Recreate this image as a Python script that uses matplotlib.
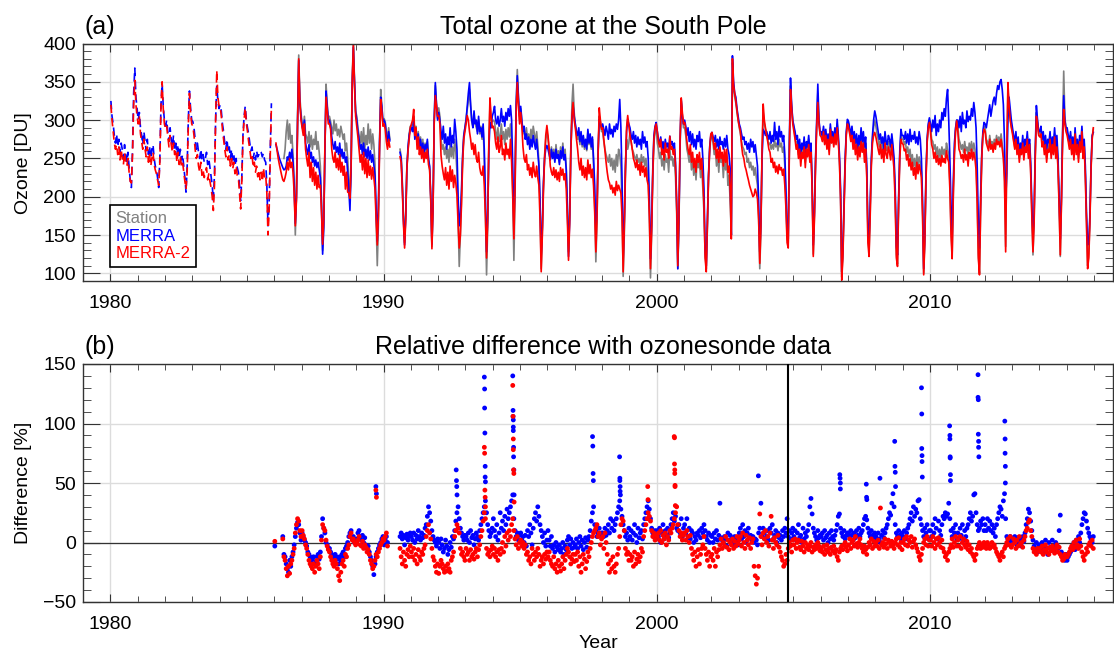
import matplotlib
matplotlib.use('Agg')
import matplotlib.pyplot as plt
import numpy as np
from matplotlib.ticker import MultipleLocator

plt.rcParams['font.family'] = ['Liberation Sans', 'DejaVu Sans']

# panel (a): total ozone [DU], 24 half-month values per year
merra_a = """
1980 325 305 295 280 270 282  265 275 258 270 262 250  268 255 245 258 238 222  212 262 335 368 330 315
1981 300 310 290 280 268 285  272 260 275 255 265 250  262 268 250 240 235 225  212 250 320 348 318 300
1982 292 300 285 272 290 275  265 280 262 270 255 268  250 262 248 255 240 225  206 240 300 338 315 300
1983 298 290 275 262 270 258  250 262 248 255 245 250  258 242 250 238 225 215  195 230 300 345 325 315
1984 320 312 295 285 270 262  275 258 265 250 262 248  255 240 250 238 232 215  195 225 280 305 318 300
1985 290 282 270 260 265 250  258 248 260 252 255 260  258 252 257 248 245 215  162 192 262 322 nan nan
1986 nan 268 262 256 250 246  242 238 235 236 240 252  248 258 250 262 245 215  165 200 300 378 320 305
1987 292 285 300 270 262 255  268 250 258 245 252 240  248 238 245 235 225 190  125 160 260 338 318 300
1988 300 292 278 268 262 272  258 265 255 270 252 262  250 258 245 252 232 210  182 235 345 395 350 310
1989 300 285 275 262 268 255  270 252 262 250 265 248  260 245 255 242 228 185  142 190 270 330 318 298
1990 300 295 280 272 285 273  nan nan nan nan nan nan  nan nan 258 250 215 170  137 175 236 265 280 288
1991 290 285 300 275 288 270  282 262 275 258 270 255  268 262 275 250 240 200  138 190 300 349 320 300
1992 310 300 285 275 292 270  282 262 278 268 290 265  280 270 301 285 262 200  162 175 210 255 280 290
1993 300 318 335 349 320 300  290 312 295 300 282 305  285 290 278 295 262 200  128 175 260 297 290 305
1994 310 318 300 295 305 292  300 315 298 305 292 310  300 315 305 319 300 240  163 225 320 358 330 305
1995 318 300 285 292 275 282  268 278 262 275 265 280  270 262 275 258 240 195  124 160 220 250 262 267
1996 262 255 248 262 250 258  245 262 250 255 242 260  250 265 248 255 235 190  122 170 260 300 319 305
1997 295 285 280 290 272 285  268 280 265 275 262 288  270 282 265 278 250 215  154 185 260 301 295 290
1998 295 288 280 292 285 275  295 282 288 278 292 285  295 288 300 327 290 225  119 170 240 285 301 295
1999 290 280 275 285 270 280  265 278 268 275 262 285  270 278 265 272 250 200  119 165 235 280 292 297
2000 285 275 268 278 262 272  258 275 265 270 260 279  268 272 262 270 245 195  106 170 270 327 305 295
2001 300 292 280 290 272 285  268 282 265 275 262 280  272 285 265 275 250 210  130 110 170 230 265 280
2002 284 278 272 280 265 275  262 278 268 272 262 276  265 280 262 255 235 150  384 350 335 330 315 305
2003 295 290 282 275 278 268  272 262 270 258 275 265  272 258 268 254 240 195  128 170 250 288 285 280
2004 285 280 275 285 270 280  272 297 275 285 268 292  278 285 272 280 255 210  150 145 270 355 320 300
2005 292 285 275 280 262 275  255 270 262 278 250 272  265 280 258 270 220 137  180 250 300 347 300 285
2006 285 280 292 275 288 270  282 265 295 278 285 272  290 275 301 280 255 210  102 130 190 250 285 301
2007 298 290 280 292 275 285  270 282 262 280 268 290  272 285 265 278 240 160  145 190 250 280 300 312
2008 305 295 285 275 282 270  278 262 285 272 268 280  275 265 282 268 250 210  135 124 200 260 288 280
2009 280 275 285 270 282 268  288 272 280 275 285 270  278 268 285 275 250 195  106 150 230 275 295 303
2010 295 285 300 290 306 280  295 285 300 290 310 300  315 305 328 340 300 250  190 145 220 270 290 300
2011 300 290 305 285 310 295  300 290 312 298 305 300  315 305 323 310 290 240  167 133 200 255 285 297
2012 295 290 300 310 320 305  315 325 330 320 335 345  340 350 353 340 320 270  195 230 300 330 315 300
2013 290 280 272 285 265 278  255 270 262 280 258 275  268 285 262 275 245 190  145 180 260 319 300 285
2014 285 292 275 285 268 280  262 275 270 285 262 278  268 290 265 280 250 200  145 200 280 332 300 290
2015 290 280 272 285 265 278  258 290 262 275 255 280  268 292 262 275 240 180  137 140 175 240 280 284
"""

merra2_a = """
1980 320 300 285 270 262 268  255 265 248 262 250 242  258 245 240 250 232 220  218 255 320 352 320 305
1981 295 305 282 272 262 275  262 252 265 245 255 240  250 258 242 235 230 222  215 245 318 350 315 295
1982 288 292 278 265 280 268  258 270 255 262 245 258  242 252 240 245 232 220  210 232 292 335 310 295
1983 292 280 262 250 255 240  232 245 228 235 225 232  238 222 230 220 212 200  182 215 300 365 330 318
1984 318 305 288 275 262 252  265 248 255 240 250 236  245 230 240 228 225 205  184 220 275 300 316 296
1985 285 272 262 250 255 238  245 232 240 226 235 222  232 220 238 225 228 205  150 180 255 318 nan nan
1986 nan 270 260 250 242 235  228 222 220 225 232 245  235 250 238 245 232 205  162 195 295 380 325 300
1987 290 280 295 262 250 240  258 225 245 220 238 215  232 210 228 212 215 180  138 170 265 330 312 295
1988 295 288 262 250 245 258  238 250 235 255 232 245  228 240 210 232 206 205  198 240 350 398 345 305
1989 292 278 262 245 255 235  258 230 250 225 248 228  240 223 238 225 210 170  137 175 262 327 312 292
1990 295 288 272 262 275 265  nan nan nan nan nan nan  nan nan 252 245 210 165  133 170 236 260 275 290
1991 295 300 314 280 290 262  278 255 265 250 262 245  258 250 262 242 235 195  132 185 295 332 318 305
1992 306 295 254 240 230 222  238 215 232 210 240 220  235 212 228 218 202 165  133 150 190 245 275 285
1993 295 306 300 285 275 262  270 255 268 250 245 258  238 230 228 240 215 175  120 170 270 329 305 290
1994 292 285 270 262 278 258  265 280 255 262 248 270  255 262 250 275 245 200  145 210 310 349 320 295
1995 310 292 265 250 245 255  235 242 228 238 225 245  232 226 240 225 215 170  102 150 210 250 280 293
1996 280 262 240 232 228 238  225 235 222 232 220 238  228 236 222 230 210 170  117 165 255 305 323 300
1997 290 275 262 245 235 250  228 240 225 238 222 248  230 242 225 236 214 180  128 170 255 316 300 288
1998 290 275 260 245 232 222  218 210 215 205 212 202  220 208 215 210 205 175  102 160 235 290 306 292
1999 280 272 262 250 245 238  248 235 242 228 245 232  240 226 238 222 215 175  106 155 228 275 290 295
2000 285 272 265 275 255 262  248 270 258 262 250 279  262 265 255 262 240 190  110 175 275 329 310 295
2001 297 288 272 262 255 268  245 258 238 250 232 255  245 258 236 250 223 190  120 102 165 225 262 282
2002 284 275 262 270 250 262  245 265 250 258 240 262  245 262 232 240 210 145  380 345 335 325 312 300
2003 292 285 267 255 250 240  235 228 222 215 210 205  200 202 210 205 197 170  113 160 260 321 300 290
2004 280 272 262 258 245 250  238 245 232 240 230 242  235 238 228 236 215 185  140 133 260 340 315 295
2005 285 275 262 268 250 262  240 258 250 265 238 262  252 268 245 258 210 122  170 240 290 323 295 280
2006 278 272 285 268 280 262  275 255 288 270 278 265  282 268 290 272 245 195   91 120 180 240 280 295
2007 290 282 272 280 262 275  255 268 248 265 252 272  258 270 245 262 225 140  122 175 240 270 280 284
2008 278 270 262 255 268 250  262 245 270 255 250 265  258 248 268 252 235 190  120 109 190 250 275 270
2009 268 260 262 248 255 240  250 235 245 228 238 223  245 230 242 235 225 175   98 140 220 270 290 297
2010 284 268 262 250 258 245  254 242 250 240 254 245  250 244 260 250 245 210  150 119 200 255 285 299
2011 285 262 258 250 255 245  262 248 255 240 258 250  262 248 258 250 235 190  120  98 180 250 280 288
2012 285 270 265 260 275 262  268 258 270 262 275 268  272 265 275 262 250 220  128 260 349 320 300 290
2013 282 272 262 275 255 268  245 262 255 270 248 265  258 275 250 268 230 175  128 165 250 305 295 280
2014 278 282 265 272 255 268  245 262 258 275 250 268  255 278 250 265 236 185  124 190 270 314 295 285
2015 280 272 262 275 255 268  248 282 255 268 245 272  258 285 250 265 225 165  106 120 165 235 275 290
"""

station_a = """
1986 nan nan nan nan nan nan  nan nan 250 262 285 300  275 295 270 280 255 220  150 205 305 385 330 310
1987 295 290 305 282 278 270  285 265 280 262 275 268  285 262 272 258 240 195  130 165 265 347 322 302
1988 305 298 290 282 300 286  295 280 288 278 292 284  275 282 260 270 250 225  195 240 355 402 352 312
1989 305 290 280 270 285 265  290 262 280 268 295 270  288 262 282 268 242 170  110 165 270 340 320 295
1990 302 298 285 275 290 275  nan nan nan nan nan nan  nan nan 262 252 220 175  140 178 240 262 282 292
1991 292 295 305 282 292 268  285 265 278 258 275 255  270 258 272 248 238 195  135 188 300 345 322 302
1992 316 305 275 262 268 255  265 250 262 245 270 252  265 250 275 258 232 170  109 150 200 250 280 290
1993 302 315 325 340 318 298  292 305 295 290 285 300  282 292 275 290 250 180   98 160 265 320 300 298
1994 300 298 285 275 290 272  280 295 275 285 268 288  275 290 278 295 270 210  117 200 320 366 330 300
1995 315 298 285 282 278 290  275 282 270 288 275 292  282 270 285 268 245 185  106 155 215 255 275 285
1996 275 262 255 265 250 262  248 268 252 260 245 265  252 270 250 262 238 180  128 175 265 320 347 310
1997 292 282 275 280 268 282  265 278 262 272 260 285  268 280 262 275 240 190  115 165 258 305 298 285
1998 285 272 262 255 250 245  255 240 250 235 248 232  255 240 262 255 240 190   96 150 230 275 262 270
1999 285 272 262 258 252 248  255 245 250 240 255 245  252 240 250 235 225 180   94 150 225 270 285 290
2000 270 262 250 258 240 250  235 255 245 250 232 262  248 252 240 250 225 180  106 165 265 325 305 290
2001 290 280 262 255 245 260  235 250 228 245 222 250  238 248 225 240 210 180  125 106 160 225 258 278
2002 279 270 255 262 240 255  232 258 245 250 225 252  235 250 215 228 193 150  375 340 330 322 310 300
2003 290 282 272 265 262 255  258 245 250 238 245 235  240 228 238 225 215 175  106 155 255 310 295 288
2004 285 275 268 270 262 268  262 275 265 270 260 275  265 270 258 265 240 195  145 140 265 345 318 298
2005 290 280 268 272 255 268  248 262 255 272 245 268  258 275 250 262 215 125  175 245 295 335 298 282
2006 282 275 288 270 285 265  280 260 290 272 282 268  285 270 295 275 248 200   95 125 185 245 282 298
2007 295 285 278 285 270 280  262 275 255 272 260 285  265 278 255 270 232 150  128 180 245 275 290 300
2008 292 282 275 265 275 262  270 255 278 265 260 272  268 255 275 260 242 200  125 112 195 255 282 275
2009 275 268 272 258 265 252  262 245 255 240 250 235  255 240 252 245 232 185  100 145 225 272 292 300
2010 290 275 272 262 268 255  265 250 262 250 265 255  262 252 270 262 255 220  160 125 205 260 288 300
2011 292 275 270 262 268 258  272 260 265 252 270 260  272 258 270 262 245 200  125 100 185 252 282 292
2012 290 275 272 265 280 268  272 262 275 268 280 272  278 270 282 268 255 225  135 255 340 318 302 292
2013 285 275 265 278 258 270  250 265 258 272 252 268  262 278 255 270 235 180  124 170 255 310 298 282
2014 282 288 270 278 262 272  250 268 262 280 255 272  260 282 255 272 240 190  122 195 285 364 305 288
2015 285 275 268 280 260 272  252 285 258 272 250 275  262 288 255 270 230 170  110 125 170 238 278 288
"""

# panel (b): relative difference with ozonesonde [%], 24 values per year
merra_b = """
1986  -3 nan nan nan nan nan  nan   5 -10 -12 -18 -22  -25 -15 -20 -12  -8  -2    5  12  17  15   8   2
1987   8   5   2   0  -3  -8  -10 -12 -15 -14 -12 -18  -16 -12 -10 -14  -8   5   20  12   8   0  -2  -5
1988  -5  -8 -10 -12 -15 -10  -12 -14 -18 -12 -15 -10   -8 -12  -5  -3   0   5    8  10   3   5   0   2
1989   3   8  10   5   2   6    0   4  -2  -5  -3  -8  -12 -15 -20 -27 -18 -12   -8  -5  -2   0   3   5
1990  -2   2   5   0 nan nan  nan nan nan nan nan nan  nan nan   5   8   3   6   -2   4   7   2   5   8
1991   5   2   8   0   6   3   10   5   2   8   4   6   12  15  22  30  25  18   10   5   2   0  -3   3
1992   0  -5   3  -2  -8  -5    2  -3 -10  -6   0  -4    5   3  10  18  25  30   20  12   8   5   2   6
1993   5   2   8   0  10   4    6  -2   3   8   5   2   10  15  20  25  30  35   25  15  10   5   8  12
1994  20  10   5  15   2   8   25  12  18  10  22  15   28  20  25  30  35  40   20  10   5   8   2   6
1995   8   2   5   0   6  -3   10   5  15   8  -2  12   20  25  18  30  22  15   10   5   0   8  -3   2
1996  10   2  -3   5  -5  -2   -8   0  -4  -6  -2  -8   -5   0 -10  -3  -6   2    5  -2   3  -5   0  -4
1997  -2   3  -5   0   5  -3    2  -6   0   4  -4   2    5  10  18  25  30  15   10   5   8  12   6   8
1998   8   5  12   6  10  15    8  20  12  18  10  15   20  25  30  35  28  22   15  10   5   8   2  12
1999   5  10   2   8  15   6    0  12   4   8  10   3   15  20  25  30  35  28   20  12   8   5  10   3
2000  10   5  12   0   8  15    3  10   6  12   4   8   15  20  25  18  22  12   10  15   8  20   5  12
2001  15   8  20   5  12   3   10   8   0   5   2   8    6  10   4  12   8  15   10   5   2   8   0   6
2002   5   0   8   3  10   2    6  33   4   2   0   5    3  -3   8   2   6   0    4  -2   5   3   0  -2
2003   8  12   3  15   5  10    0   8  12   4   6   2    5   0   3   2  -2   8   12  33   5  12   8   3
2004   5  10   2  12   8  15    3   6  10   0   8   4    6   2  10   5  12   8   20   5  10   3   8  12
2005   5  10   2   8  15   4    6   0  12   3   8   5   10  15  30  37  24  12    8   5   2  10   4   6
2006   5   8   2  10   4   6    0   8   3  10   5   2    6  10  15  22  24  12    8   5  10   3   6   8
2007   8   5  10   6   2   8    4  10   6  12   5   8   10  15  20  22  19  12    8   5  10   6   3   8
2008   5   2   8   3   0   6   10   4   8  12  15  20   25  23  33  41  30  15    8   5  10   6   3   8
2009   5  10   3   8  12  15   20  25  18  30  22  28   25  35  36  20  15  10    5  12   8  15   3  10
2010  10   5  15   8  20  12    3  18  10   6  15  22   20  25  22  24  33  20   10   5  12   8  15   3
2011   8   3  12   6  15   2   10   5  12  15  20  25   18  22  40  41  25  15   10  12  18  15  20  10
2012  15  10  20  12  18  10   15   8  12   5  15  20   25  30  28  22  35  41   20   5   3   0   5   2
2013   3   0   5   2  -2   4    0   3  -3   5   1   8   15  20  28  25  18  10    2  -3  -5   0  -8  -2
2014  -2  -5   0  -8  -3   2   -5 -10   0  -4  -6   2   -3  -8   0  -2  -5  10   23  -8 -10 -12 -15 -10
2015 -15 -12 -10  -8  -5  -3    0  -6   2  -2   5   0    8  15  20  25  24  18   12   8   5   3   0   5
"""

merra2_b = """
1986   1 nan nan nan nan nan  nan   3 -12 -15 -22 -28  -20 -26 -18 -15 -10  -5    8  15  20  18  10   5
1987  10   6   3  -2  -5 -10  -15 -18 -20 -22 -18 -25  -20 -15 -18 -22 -12   2   15  12  10   2  -3  -6
1988  -8 -12 -15 -18 -20 -15  -18 -22 -28 -32 -25 -18  -15 -20 -10 -12  -5  -2    5   8   2   3   0  -2
1989   0   2   5  -2  -3   1   -5  -2  -4  -8  -6 -10  -15 -18 -22 -20 -15 -10  -12  -8  -5  -2   0   3
1990   2   5   8  -3 nan nan  nan nan nan nan nan nan  nan nan  -5 -12 -18  -8  -15 -20 -10  -6 -12  -3
1991  -8 -12  -5 -15 -10 -18   -6 -12 -15  -8 -10  -5   -2   5  10  15   8   3   -5 -12 -15 -20 -25 -18
1992 -26 -20 -15 -18 -22 -25  -20 -24 -18 -22 -25 -15  -12  -8   5  10  15  12    8  -5 -10  -8 -12 -15
1993  -5 -10  -8 -15  -6 -12  -10 -14  -8  -5 -12  -6   -2   5  10  18  25  20   -5 -10  -8 -12  -6  -3
1994 -10  -5 -12  -8 -15  -6  -10  -5   0  -8   5  -3    8   2  10   5  15  20   10   3  -2   5  -5   0
1995   2  -3   0  -5  -2 -10   -8 -15 -12 -18  -5 -10  -15  -8 -12  -5 -10 -20  -15 -12 -18 -10 -14  -8
1996 -12  -8 -15 -18 -20 -12  -22 -18 -25 -15 -20 -24  -18 -12 -22 -15 -10  -5   -8 -12 -18 -14 -10 -16
1997 -10 -15  -8 -20 -12 -25  -18 -10 -14 -22 -16  -8  -12  -5   0   5   8  10   12  15   5   8  -2   3
1998   5  -5   8   0 -10 -18  -25 -15 -22 -12 -20 -25  -18 -10  -5   5  15  20   18  10  -5 -10  -8 -15
1999 -10 -15 -12 -20  -8 -18  -14 -10 -16 -12  -5  -8    5  10  15  20  25  22   18  10   5   8   2   6
2000   5   8   2  10   0   6    3   8  -2   5   2  10    8  12  15  20  25  30   15  10   5   8   2   6
2001   8   2  10   5   0   6   -5 -10 -15  -8 -20 -12   -6 -18 -10  -5  -2   5   -5 -10 -15  -8 -20 -12
2002 -10 -15  -5 -20  -8 -12   -6  -2   3  -5   0  -3    5  -4   2  -6   0  -2    3  -5   1  -3   5  -1
2003   2   5  -3   8   0  -5    6   2  -2   4  -5   0    3 -20 -28 -35 -30 -20   24   5  -2   8   3  10
2004   0   5  -3   8  22   2   -5   4   0  -2   6  -4   -8 -12 -15 -20 -18 -10  -15  -5   0  -3  -8   2
2005  -2   3  -5   0   2  -4   -6   1  -3  -8   0  -5   -2  -6  -3   0  -8  -4   -6  -2  -5   0  -3  -7
2006  -5  -8  -3 -10  -6  -2   -8  -5 -10  -4  -7  -3   -9  -6 -12 -15  -8  -5   -3  -6  -2   0  -4  -7
2007  -2   3  -5   0   2  -3    5  -1  -4   0   3  -2   -5  -8  -3  -6 -10  -4    0  -2   3  -5   1  -3
2008   0  -3   2  -5  29  -2    0  -4   3  -1  -5   2    0  -3   1  -2  -5   0    3  -2   4  -4   0  -6
2009   0   3  -2   5  -3   2    0   5  -4   1   3  -2   -5  -8 -12 -15 -10  -5    0   3  -2   5  -3   2
2010   2  -3   5   0  -5   3   -2   4   0  -4   2  -5   -8 -12 -10 -15  -8  -5   -2   3  -4   0   5  -3
2011   2  -3   5  -5   0   3   -2  -4   1  -6  -2  -8   -5 -10 -12 -15 -10  -5   -3   0  -5  -2  -4   0
2012  -3  -5   0  -2  -5  -4    0  -3  -2  -5  -8 -10  -12 -15 -10  -8 -12  -5   -3   0   3  -2   5  -4
2013  -2   3   0  -5   2  -3    5  -1   0  -4   2   5   10  12  17  19  10   5   -5  -8  -6 -10  -5  -7
2014  -5  -8  -3 -10  -6  -2   -8  -5 -10  -4  -7  -3   -6  -9  -5  -2  -8  -4  -10 -12 -15 -14 -10 -12
2015 -12 -10  -8  -5  -3  -6    0  -4   2  -2  -5   3   -3  -8 -12 -15 -10  -5   -8  -2   0  -3   2  -5
"""

# ozone hole season outliers (date, %)
merra_out_t = [1989.72, 1989.74, 1992.66, 1992.67, 1992.68, 1992.69,
               1993.69, 1993.70, 1993.70, 1993.71, 1993.72, 1993.72, 1993.73,
               1994.73, 1994.74, 1994.74, 1994.75, 1994.75, 1994.75, 1994.76,
               1994.76, 1994.77, 1994.78, 1997.65, 1997.66, 1997.67, 1997.68,
               1998.64, 1998.65, 1998.65, 1998.66, 1998.66, 1998.67, 2003.72,
               2006.70, 2006.71, 2006.72, 2006.72, 2007.67, 2007.68, 2007.69,
               2008.17, 2008.71, 2008.72, 2008.73, 2008.74,
               2009.69, 2009.70, 2009.70, 2009.71, 2009.71, 2009.72,
               2010.72, 2010.73, 2010.73, 2010.74, 2010.74, 2010.75, 2010.75,
               2011.76, 2011.76, 2011.77, 2011.77, 2011.78, 2011.78, 2011.79,
               2012.74, 2012.75, 2012.75, 2012.76, 2012.76]
merra_out_v = [47, 41, 61, 52, 47, 40,
               139, 129, 113, 92, 64, 55, 51,
               140, 111, 106, 103, 97, 94, 80,
               72, 61, 40, 89, 81, 58, 52,
               72, 54, 52, 47, 43, 40, 56,
               57, 54, 50, 45, 49, 38, 36,
               54, 85, 64, 59, 47,
               130, 108, 79, 73, 68, 55,
               98, 90, 87, 72, 71, 57, 52,
               141, 122, 120, 91, 85, 80, 72,
               102, 87, 75, 64, 50]
merra2_out_t = [1989.72, 1989.74, 1993.69, 1993.70, 1993.71, 1993.72, 1993.73,
                1994.73, 1994.74, 1994.75, 1994.75, 1994.76, 1994.77, 1994.78,
                1999.67, 1999.68, 2000.64, 2000.65, 2000.65, 2000.66, 2000.66,
                2000.67, 2000.67, 2000.68]
merra2_out_v = [44, 38, 80, 75, 44, 38, 30,
                132, 106, 87, 78, 61, 58, 34,
                47, 36, 89, 88, 66, 61, 58,
                48, 47, 31]


def parse(block):
    t, v = [], []
    for line in block.strip().splitlines():
        parts = line.split()
        year = int(parts[0])
        vals = [float(x) for x in parts[1:]]
        for i, x in enumerate(vals):
            t.append(year + (i + 0.5) / len(vals))
            v.append(x)
    return np.array(t), np.array(v)


def style(ax):
    ax.set_xlim(1979, 2016.7)
    ax.xaxis.set_major_locator(MultipleLocator(10))
    ax.xaxis.set_minor_locator(MultipleLocator(1))
    ax.yaxis.set_major_locator(MultipleLocator(50))
    ax.yaxis.set_minor_locator(MultipleLocator(10))
    ax.tick_params(which='both', direction='in', top=True, right=True,
                   labelsize=14, color='#333333')
    ax.tick_params(axis='y', which='major', length=12, pad=5)
    ax.tick_params(axis='y', which='minor', length=6)
    ax.tick_params(axis='x', which='major', length=6, pad=10)
    ax.tick_params(axis='x', which='minor', length=4)
    ax.grid(True, which='major', color='#dcdcdc', lw=1)
    ax.set_axisbelow(True)
    for s in ax.spines.values():
        s.set_color('#333333')
        s.set_linewidth(1.0)


GRAY, BLUE, RED = '#808080', '#0000ff', '#ff0000'

fig = plt.figure(figsize=(11.14, 6.52), dpi=100)
ax1 = fig.add_axes([83 / 1114, 1 - 281 / 652, 1030 / 1114, 237.5 / 652])
ax2 = fig.add_axes([83 / 1114, 1 - 602 / 652, 1030 / 1114, 238 / 652])

# (a) total ozone
handles = []
for block, color in [(station_a, GRAY), (merra_a, BLUE), (merra2_a, RED)]:
    t, v = parse(block)
    early = t < 1986
    ax1.plot(t[early], v[early], color=color, lw=1.2, ls=(0, (5, 3)))
    line, = ax1.plot(t[~early], v[~early], color=color, lw=1.2)
    handles.append(line)

ax1.set_ylim(90, 400)
style(ax1)
leg = ax1.legend(handles, ['Station', 'MERRA', 'MERRA-2'], loc='lower left',
                 bbox_to_anchor=(0.026, 0.059), borderaxespad=0,
                 handlelength=0, handletextpad=0, fontsize=12,
                 labelcolor='linecolor', fancybox=False, edgecolor='black',
                 framealpha=1, borderpad=0.35, labelspacing=0.15)
for h in leg.legend_handles:
    h.set_visible(False)
leg.get_frame().set_linewidth(1.2)

# (b) relative difference
tb, vb = parse(merra_b)
tr, vr = parse(merra2_b)
ax2.scatter(tb, vb, s=12, color=BLUE, edgecolors='none', zorder=3)
ax2.scatter(merra_out_t, merra_out_v, s=12, color=BLUE, edgecolors='none', zorder=3)
ax2.scatter(tr, vr, s=12, color=RED, edgecolors='none', zorder=4)
ax2.scatter(merra2_out_t, merra2_out_v, s=12, color=RED, edgecolors='none', zorder=4)
ax2.axhline(0, color='#333333', lw=0.9, zorder=2)
ax2.axvline(2004.8, color='black', lw=1.5, zorder=5)
ax2.set_ylim(-50, 150)
style(ax2)

# labels
fig.text(84 / 1114, 1 - 34 / 652, '(a)', fontsize=18, ha='left', va='baseline')
fig.text(603 / 1114, 1 - 34 / 652, 'Total ozone at the South Pole',
         fontsize=18, ha='center', va='baseline')
fig.text(84 / 1114, 1 - 354 / 652, '(b)', fontsize=18, ha='left', va='baseline')
fig.text(603 / 1114, 1 - 354 / 652, 'Relative difference with ozonesonde data',
         fontsize=18, ha='center', va='baseline')
fig.text(23 / 1114, 1 - 163 / 652, 'Ozone [DU]', fontsize=14, rotation=90,
         ha='center', va='center')
fig.text(23 / 1114, 1 - 483 / 652, 'Difference [%]', fontsize=14, rotation=90,
         ha='center', va='center')
fig.text(598 / 1114, 1 - 648 / 652, 'Year', fontsize=14, ha='center', va='baseline')

fig.savefig('out.png', dpi=100)
